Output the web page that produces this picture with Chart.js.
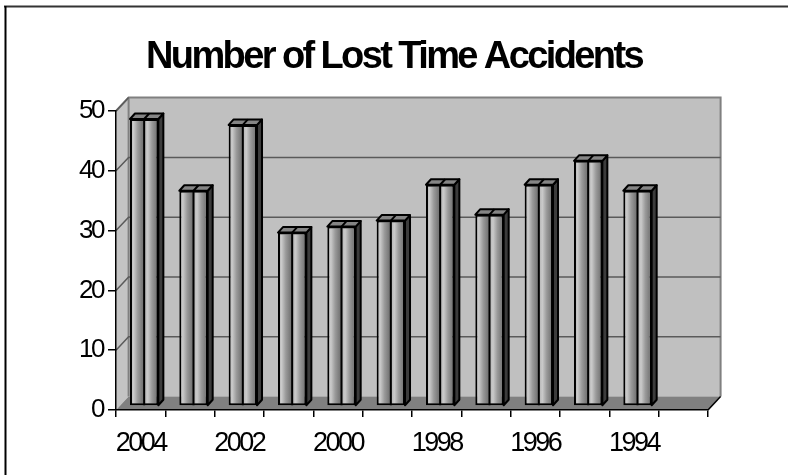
<!DOCTYPE html>
<html>
<head>
<meta charset="utf-8">
<script src="https://cdn.jsdelivr.net/npm/chart.js@4.4.1/dist/chart.umd.min.js"></script>
<style>
html,body{margin:0;padding:0;background:#fff;}
canvas{display:block;}
</style>
</head>
<body>
<canvas id="c" width="788" height="475"></canvas>
<script>
const categories = ['2004','2003','2002','2001','2000','1999','1998','1997','1996','1995','1994','1993'];
const accidents = [48, 36, 47, 29, 30, 31, 37, 32, 37, 41, 36, null];
const yTicks = [0, 10, 20, 30, 40, 50];
const chartTitle = 'Number of Lost Time Accidents';

const FONT = "'Liberation Sans',Arial,sans-serif";
const WALL = {dx: 12.6, dy: -13.4};
const BAR = {dx: 3.5, dy: -4, depth: 5, rise: 5.5};

function barGradient(ctx) {
  const chart = ctx.chart;
  const xs = chart.scales.x;
  if (!chart.chartArea || !xs || xs.width == null) return '#b0b0b0';
  const cw = xs.width / categories.length;
  const w = cw * 0.575;
  const cx = xs.getPixelForValue(ctx.dataIndex);
  const L = cx - w / 2, R = cx + w / 2;
  const g = chart.ctx.createLinearGradient(L, 0, R, 0);
  const half = [[0, '#9a9a9a'], [0.12, '#bebebe'], [0.25, '#cacaca'], [0.55, '#9a9a9a'], [0.85, '#7a7a7a'], [1, '#6e6e6e']];
  half.forEach(([p, c]) => g.addColorStop(p * 0.5, c));
  half.forEach(([p, c]) => g.addColorStop(0.5 + p * 0.5, c));
  return g;
}

const excel3d = {
  id: 'excel3d',
  beforeDraw(chart) {
    const {ctx, chartArea: a, scales: {y}} = chart;
    const {dx, dy} = WALL;
    ctx.letterSpacing = '-2.5px';
    ctx.save();
    ctx.fillStyle = '#c0c0c0';
    ctx.fillRect(a.left + dx, a.top + dy, a.right - a.left, a.bottom - a.top);
    ctx.beginPath();
    ctx.moveTo(a.left, a.top); ctx.lineTo(a.left + dx, a.top + dy);
    ctx.lineTo(a.left + dx, a.bottom + dy); ctx.lineTo(a.left, a.bottom);
    ctx.closePath();
    ctx.fillStyle = '#c4c4c4'; ctx.fill();
    ctx.beginPath();
    ctx.moveTo(a.left, a.bottom); ctx.lineTo(a.right, a.bottom);
    ctx.lineTo(a.right + dx, a.bottom + dy); ctx.lineTo(a.left + dx, a.bottom + dy);
    ctx.closePath();
    ctx.fillStyle = '#808080'; ctx.fill();
    ctx.strokeStyle = '#808080'; ctx.lineWidth = 2;
    ctx.beginPath();
    ctx.moveTo(a.left, a.top); ctx.lineTo(a.left + dx, a.top + dy);
    ctx.lineTo(a.right + dx, a.top + dy); ctx.lineTo(a.right + dx, a.bottom + dy);
    ctx.moveTo(a.left + dx, a.top + dy); ctx.lineTo(a.left + dx, a.bottom + dy);
    ctx.stroke();
    ctx.strokeStyle = '#5a5a5a'; ctx.lineWidth = 1.5;
    yTicks.forEach(v => {
      if (v === 0) return;
      const py = y.getPixelForValue(v);
      ctx.beginPath();
      ctx.moveTo(a.left, py); ctx.lineTo(a.left + dx, py + dy);
      if (v !== yTicks[yTicks.length - 1]) ctx.lineTo(a.right + dx, py + dy);
      ctx.stroke();
    });
    ctx.strokeStyle = '#000'; ctx.lineWidth = 1.5;
    ctx.beginPath();
    ctx.moveTo(a.right, a.bottom); ctx.lineTo(a.right + dx, a.bottom + dy);
    ctx.stroke();
    ctx.restore();
  },
  beforeDatasetsDraw(chart) {
    chart.ctx.save();
    chart.ctx.translate(BAR.dx, BAR.dy);
  },
  afterDatasetsDraw(chart) {
    const ctx = chart.ctx;
    const meta = chart.getDatasetMeta(0);
    const d = BAR.depth, r = BAR.rise;
    meta.data.forEach((el, i) => {
      if (accidents[i] == null) return;
      const {x, y, base, width} = el.getProps(['x', 'y', 'base', 'width'], true);
      const L = x - width / 2, R = x + width / 2;
      ctx.lineWidth = 2; ctx.strokeStyle = '#000'; ctx.lineJoin = 'round';
      ctx.beginPath();
      ctx.moveTo(R, y); ctx.lineTo(R + d, y - r); ctx.lineTo(R + d, base - r); ctx.lineTo(R, base);
      ctx.closePath();
      ctx.fillStyle = '#3c3c3c'; ctx.fill(); ctx.stroke();
      ctx.beginPath();
      ctx.moveTo(L, y); ctx.lineTo(R, y); ctx.lineTo(R + d, y - r); ctx.lineTo(L + d, y - r);
      ctx.closePath();
      ctx.fillStyle = '#858585'; ctx.fill(); ctx.stroke();
      ctx.beginPath();
      ctx.moveTo(x, base); ctx.lineTo(x, y); ctx.lineTo(x + d, y - r);
      ctx.stroke();
    });
    ctx.restore();
  },
  afterDraw(chart) {
    const ctx = chart.ctx;
    ctx.save();
    ctx.strokeStyle = '#333'; ctx.lineWidth = 2;
    ctx.beginPath(); ctx.moveTo(4, 6.5); ctx.lineTo(788, 6.5); ctx.stroke();
    ctx.strokeStyle = '#000';
    ctx.beginPath(); ctx.moveTo(5.5, 6); ctx.lineTo(5.5, 475); ctx.stroke();
    ctx.letterSpacing = '-2.6px';
    ctx.font = 'bold 38px ' + FONT;
    ctx.fillStyle = '#000';
    ctx.textAlign = 'center';
    ctx.textBaseline = 'alphabetic';
    ctx.fillText(chartTitle, 394, 68);
    ctx.restore();
  }
};

new Chart(document.getElementById('c'), {
  type: 'bar',
  data: {
    labels: categories,
    datasets: [{
      label: 'Lost Time Accidents',
      data: accidents,
      backgroundColor: barGradient,
      borderColor: '#000',
      borderWidth: 2,
      borderSkipped: false,
      categoryPercentage: 1,
      barPercentage: 0.575
    }]
  },
  options: {
    responsive: false,
    animation: false,
    layout: {padding: {left: 0, right: 80, top: 111, bottom: 0}},
    plugins: {
      legend: {display: false},
      tooltip: {enabled: false},
      title: {display: false}
    },
    scales: {
      x: {
        grid: {display: true, offset: true, drawOnChartArea: false, color: '#000', lineWidth: 1.5, tickLength: 7},
        border: {display: true, color: '#000', width: 1.5},
        ticks: {
          color: '#000',
          font: {family: FONT, size: 27},
          autoSkip: false, maxRotation: 0, padding: 10,
          callback: (v, i) => (i % 2 === 0 ? categories[i] : '')
        },
        afterFit: s => { s.height = 65; }
      },
      y: {
        min: 0, max: 50,
        grid: {display: true, drawOnChartArea: false, color: '#000', lineWidth: 1.5, tickLength: 8},
        border: {display: true, color: '#000', width: 1.5},
        afterBuildTicks: s => { s.ticks = yTicks.map(v => ({value: v})); },
        ticks: {color: '#000', font: {family: FONT, size: 26}, padding: 5},
        afterFit: s => { s.width = 116; }
      }
    }
  },
  plugins: [excel3d]
});
</script>
</body>
</html>
